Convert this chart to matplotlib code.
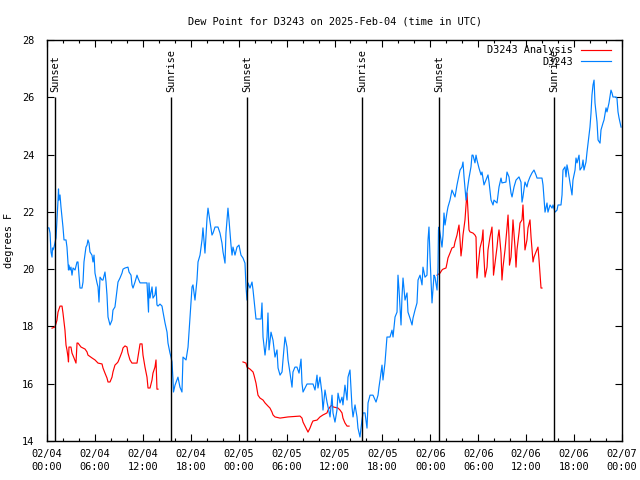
import matplotlib
matplotlib.use("Agg")
import matplotlib.pyplot as plt
from matplotlib.ticker import MultipleLocator

# hours since 2025-02-04 00:00 UTC
blue_t = [0.0,0.25,0.38,0.5,0.63,0.69,0.75,0.88,1.13,1.25,1.38,1.44,1.5,1.63,1.75,1.88,1.94,2.0,2.13,2.38,2.5,2.63,2.69,2.75,2.88,3.0,3.13,3.26,3.51,3.76,3.88,4.01,4.13,4.38,4.51,4.63,4.88,5.01,5.13,5.26,5.38,5.63,5.76,5.89,6.01,6.26,6.39,6.51,6.64,6.89,7.01,7.26,7.39,7.51,7.64,7.89,8.14,8.26,8.51,8.77,8.89,9.14,9.39,9.52,9.77,10.14,10.27,10.52,10.64,10.77,11.02,11.27,11.39,11.65,12.52,12.65,12.71,12.77,12.9,13.15,13.27,13.52,13.65,13.77,13.9,14.15,14.4,14.53,14.78,15.03,15.15,15.4,15.53,15.65,15.78,15.84,16.03,16.4,16.65,16.9,17.03,17.41,17.66,17.91,18.16,18.28,18.53,18.78,18.91,19.16,19.41,19.53,19.78,20.04,20.16,20.41,20.66,20.79,21.04,21.41,21.66,21.91,22.04,22.29,22.41,22.66,22.79,23.04,23.17,23.29,23.54,23.79,24.04,24.29,24.54,24.79,24.92,25.04,25.17,25.42,25.67,25.8,26.05,26.17,26.8,26.92,27.05,27.3,27.55,27.67,27.8,28.05,28.3,28.55,28.8,28.93,29.18,29.43,29.55,29.8,30.05,30.18,30.43,30.68,30.8,31.05,31.3,31.56,31.81,31.93,32.06,32.31,32.56,33.31,33.56,33.81,33.93,34.18,34.43,34.56,34.81,35.06,35.19,35.44,35.69,35.81,36.06,36.31,36.44,36.69,36.94,37.06,37.31,37.57,37.69,37.94,38.19,38.32,38.57,38.82,38.94,39.19,39.44,39.57,39.82,40.07,40.2,40.45,40.82,41.2,41.45,41.57,41.7,41.95,42.07,42.32,42.45,42.57,42.95,43.2,43.33,43.58,43.83,43.95,44.08,44.33,44.45,44.58,44.83,45.08,45.2,45.45,45.71,45.83,46.08,46.33,46.46,46.71,46.96,47.08,47.33,47.58,47.71,47.83,47.96,48.21,48.34,48.46,48.58,48.84,48.96,49.02,49.09,49.21,49.46,49.59,49.71,49.84,50.09,50.21,50.46,50.71,51.09,51.34,51.46,51.72,51.97,52.09,52.22,52.47,52.59,52.84,53.09,53.22,53.34,53.59,53.72,53.84,54.09,54.35,54.47,54.72,54.97,55.22,55.35,55.6,55.85,55.97,56.35,56.6,56.85,56.97,57.47,57.6,57.85,58.1,58.23,58.48,58.73,59.1,59.35,59.48,59.6,59.85,60.1,60.23,60.48,60.73,60.98,61.23,61.36,61.98,62.11,62.36,62.61,62.73,62.99,63.24,63.36,63.61,63.86,63.99,64.36,64.49,64.61,64.86,64.99,65.11,65.24,65.49,65.74,65.86,66.12,66.24,66.37,66.62,66.74,66.99,67.12,67.24,67.49,67.62,67.87,67.99,68.12,68.24,68.37,68.5,68.62,68.87,69.0,69.25,69.37,69.62,69.75,70.0,70.12,70.37,70.62,70.75,70.87,71.25,71.37,71.5,71.63,71.88]
blue_v = [21.44,21.44,21.26,20.6,20.42,20.74,20.67,20.77,21.09,21.72,22.41,22.8,22.41,22.59,22.17,21.82,21.65,21.47,21.02,21.02,20.77,20.21,19.97,20.14,19.97,20.07,19.79,20.04,19.97,20.25,20.25,19.79,19.34,19.34,19.55,20.25,20.77,20.84,21.02,20.91,20.6,20.49,20.25,20.49,19.86,19.52,19.38,18.85,19.72,19.62,19.62,19.9,19.55,19.1,18.33,18.05,18.22,18.57,18.68,19.27,19.55,19.69,19.86,20.0,20.04,20.07,19.9,19.79,19.45,19.34,19.55,19.79,19.69,19.52,19.52,18.82,18.5,19.52,18.99,19.38,18.99,19.1,19.38,18.75,18.71,18.78,18.71,18.5,18.12,17.8,17.42,17.07,16.93,16.76,16.13,15.71,15.95,16.23,15.88,15.71,16.93,16.83,17.28,18.33,19.38,19.45,18.92,19.62,20.25,20.49,21.02,21.44,20.56,21.78,22.13,21.65,21.19,21.26,21.47,21.47,21.26,20.91,20.6,20.21,21.26,22.13,21.72,20.84,20.49,20.77,20.49,20.77,20.84,20.49,20.39,20.21,19.38,18.92,19.52,19.34,19.55,19.27,18.57,18.26,18.26,18.82,17.63,17.0,17.63,18.47,17.18,17.8,17.52,16.93,17.18,16.55,16.3,16.41,16.83,17.63,17.28,16.83,16.37,15.88,16.41,16.58,16.58,16.37,16.86,16.02,15.71,15.85,15.99,15.99,15.78,16.3,15.85,16.23,15.67,15.08,15.78,15.36,15.19,14.84,15.6,14.98,14.66,15.08,15.67,15.33,15.53,15.26,15.95,15.43,16.23,16.48,15.19,14.84,15.26,14.84,14.45,14.14,14.73,14.98,14.98,14.45,15.33,15.6,15.6,15.36,15.6,15.88,16.13,16.65,16.13,16.72,17.18,17.63,17.63,17.87,17.63,18.33,18.5,19.79,19.27,18.05,19.03,19.69,18.92,19.17,18.5,18.29,18.05,18.29,18.57,18.82,19.62,19.79,19.45,20.07,19.72,19.79,21.02,21.47,20.42,18.82,19.34,19.79,19.72,19.27,20.04,21.37,21.47,21.26,20.77,21.19,21.96,21.54,21.99,22.17,22.41,22.76,22.52,22.94,23.11,23.46,23.57,23.74,23.22,22.41,22.69,23.18,23.57,23.98,23.98,23.71,23.98,23.81,23.53,23.29,23.39,22.94,23.11,23.29,23.04,22.41,22.24,22.41,22.31,22.87,23.18,23.01,23.04,23.39,23.22,22.66,22.52,22.87,23.11,23.22,23.04,22.34,22.52,23.04,22.87,23.04,23.22,23.36,23.46,23.29,23.18,23.18,22.94,21.99,22.31,21.99,22.24,22.13,22.24,21.99,22.06,22.24,22.24,22.59,23.46,23.57,23.22,23.64,23.46,23.01,22.59,23.11,23.46,23.88,23.71,23.98,23.46,23.57,23.81,23.46,23.74,24.09,24.68,24.96,25.45,26.08,26.43,26.6,25.8,25.14,24.51,24.4,24.86,25.1,25.21,25.63,25.49,25.8,26.25,26.15,26.01,26.01,25.97,25.49,25.28,24.96]

red1_t = [0.63,1.0,1.25,1.38,1.63,1.88,2.0,2.25,2.38,2.5,2.63,2.69,2.75,3.0,3.13,3.38,3.63,3.76,3.88,4.26,4.76,5.01,5.13,5.63,6.01,6.39,6.89,7.01,7.26,7.51,7.64,7.89,8.14,8.26,8.51,8.77,8.89,9.14,9.39,9.52,9.77,10.02,10.14,10.39,10.64,11.27,11.65,11.9,12.02,12.27,12.52,12.65,12.9,13.15,13.27,13.52,13.65,13.77,13.9]
red1_v = [17.94,17.98,18.22,18.5,18.71,18.71,18.47,17.87,17.35,17.18,16.93,16.76,17.28,17.28,17.07,16.9,16.72,17.42,17.42,17.28,17.21,17.11,17.0,16.9,16.83,16.72,16.69,16.55,16.37,16.2,16.06,16.06,16.23,16.41,16.65,16.72,16.76,16.93,17.11,17.25,17.32,17.28,17.07,16.83,16.72,16.72,17.39,17.39,17.0,16.58,16.23,15.85,15.85,16.13,16.37,16.58,16.83,15.81,15.81]

red2_t = [24.54,24.92,25.04,25.42,25.8,25.92,26.17,26.42,26.67,27.05,27.3,27.67,27.92,28.17,28.3,28.55,29.18,30.18,31.68,31.93,32.06,32.31,32.56,32.68,32.93,33.18,33.31,33.81,34.18,34.56,35.06,35.19,35.44,35.69,35.81,36.44,36.69,36.94,37.06,37.31,37.57,37.82]
red2_v = [16.76,16.72,16.58,16.51,16.41,16.3,16.02,15.6,15.5,15.43,15.33,15.22,15.15,15.01,14.91,14.84,14.8,14.84,14.87,14.8,14.66,14.52,14.38,14.31,14.45,14.63,14.7,14.73,14.84,14.91,14.98,15.08,15.19,15.26,15.19,15.15,15.08,14.98,14.8,14.63,14.52,14.52]

red3_t = [48.84,49.21,49.46,49.59,49.96,50.09,50.21,50.46,50.71,50.96,51.09,51.34,51.46,51.59,51.72,51.84,51.97,52.09,52.34,52.47,52.59,52.72,52.84,52.97,53.34,53.59,53.72,53.84,53.97,54.22,54.47,54.6,54.66,54.85,55.1,55.22,55.47,55.72,55.85,55.91,56.1,56.35,56.47,56.6,56.85,56.97,57.1,57.35,57.6,57.73,57.85,57.91,58.1,58.23,58.35,58.6,58.73,58.85,59.1,59.23,59.48,59.6,59.73,59.85,60.1,60.23,60.48,60.61,60.86,60.98,61.23,61.48,61.61,61.86,61.98]
red3_v = [19.79,19.86,19.97,20.0,20.04,20.21,20.39,20.56,20.74,20.77,20.95,21.19,21.37,21.54,21.02,20.46,20.77,21.19,21.72,22.24,22.66,21.99,21.37,21.3,21.26,21.19,21.12,19.69,20.07,20.74,21.02,21.37,20.67,19.72,20.07,20.67,21.12,21.47,20.49,19.79,20.21,20.77,21.12,21.37,20.56,19.62,20.07,20.67,21.44,21.89,21.12,20.14,20.42,21.02,21.72,20.77,20.07,20.67,21.26,21.61,21.72,22.24,21.44,20.67,21.02,21.44,21.72,21.12,20.25,20.42,20.6,20.77,20.32,19.34,19.34]

sun_t = [1.0, 15.53, 25.04, 39.44, 49.09, 63.49]
sun_labels = ["Sunset", "Sunrise", "Sunset", "Sunrise", "Sunset", "Sunrise"]

xtick_pos = [0, 6, 12, 18, 24, 30, 36, 42, 48, 54, 60, 66, 72]
xtick_labels = ["02/04\n00:00", "02/04\n06:00", "02/04\n12:00", "02/04\n18:00",
                "02/05\n00:00", "02/05\n06:00", "02/05\n12:00", "02/05\n18:00",
                "02/06\n00:00", "02/06\n06:00", "02/06\n12:00", "02/06\n18:00",
                "02/07\n00:00"]

plt.rcParams['font.family'] = ['DejaVu Sans Mono']
FS = 7.4

fig = plt.figure(figsize=(6.4, 4.8), dpi=100)
ax = fig.add_axes([47/640, 39/480, 575/640, 401/480])

red = '#ff0000'
blue = '#0080ff'
ax.plot(red1_t, red1_v, color=red, lw=0.85, label='D3243 Analysis')
ax.plot(red2_t, red2_v, color=red, lw=0.85)
ax.plot(red3_t, red3_v, color=red, lw=0.85)
ax.plot(blue_t, blue_v, color=blue, lw=0.85, label='D3243')

for t, lab in zip(sun_t, sun_labels):
    ax.vlines(t, 14, 26, color='black', lw=1.0)
    ax.text(t, 26.17, lab, rotation=90, ha='center', va='bottom', fontsize=FS)

ax.set_xlim(0, 72)
ax.set_ylim(14, 28)
ax.set_xticks(xtick_pos)
ax.set_xticklabels(xtick_labels, fontsize=FS, linespacing=1.3)
ax.xaxis.set_minor_locator(MultipleLocator(2))
ax.yaxis.set_major_locator(MultipleLocator(2))
ax.tick_params(axis='y', labelsize=FS)
ax.tick_params(which='both', direction='in', top=True, right=True, width=0.8, color='black')
ax.tick_params(which='major', length=5)
ax.tick_params(which='minor', length=2.5)
ax.tick_params(axis='x', pad=6)
ax.tick_params(axis='y', pad=9)
for s in ax.spines.values():
    s.set_linewidth(1.0)

ax.set_ylabel('degrees F', fontsize=FS, labelpad=6)
ax.set_title('Dew Point for D3243 on 2025-Feb-04 (time in UTC)', fontsize=FS, pad=11)

leg = ax.legend(loc='upper right', bbox_to_anchor=(1 - 6/575, 1.0), frameon=False,
                markerfirst=False, fontsize=FS,
                handlelength=2.9, handletextpad=0.8, borderaxespad=0.2,
                borderpad=0.3, labelspacing=0.15)

fig.savefig('out.png', dpi=100)
